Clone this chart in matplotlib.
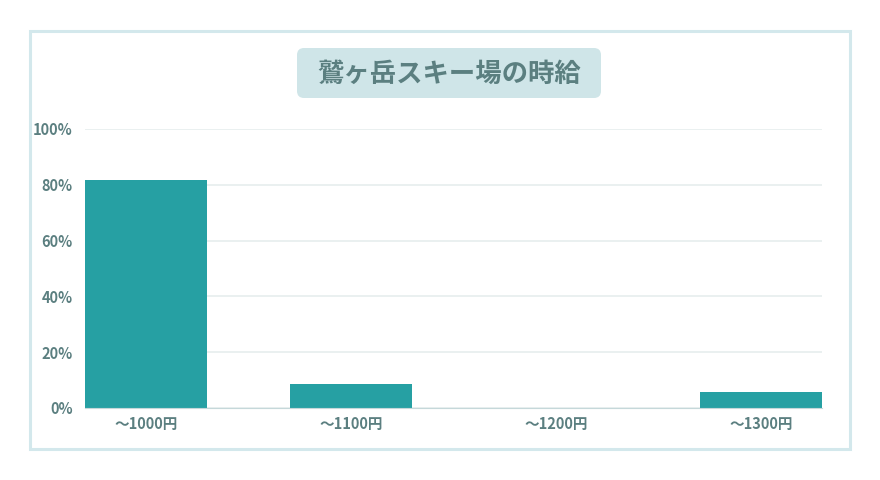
import matplotlib
matplotlib.use("Agg")
import matplotlib.pyplot as plt
from matplotlib.patches import FancyBboxPatch, Rectangle

plt.rcParams['font.family'] = ['Noto Sans CJK JP', 'DejaVu Sans']

# data
categories = ['〜1000円', '〜1100円', '〜1200円', '〜1300円']
shares = [81.8, 8.5, 0.0, 5.6]
yticks = [0, 20, 40, 60, 80, 100]
title = '鷲ヶ岳スキー場の時給'

bar_color = '#26a0a3'
text_color = '#5b7f80'
frame_color = '#d3e8ec'
box_color = '#cfe5e8'

fig = plt.figure(figsize=(8.8, 4.8), dpi=100)

# outer frame
fig.patches.append(Rectangle((30 / 880, 1 - 449 / 480), 820 / 880, 418 / 480,
                             transform=fig.transFigure, fill=False,
                             edgecolor=frame_color, linewidth=2.2))

# title box
fig.patches.append(FancyBboxPatch((297 / 880, 1 - 98 / 480), 304 / 880, 50 / 480,
                                  boxstyle='round,pad=0,rounding_size=0.008',
                                  transform=fig.transFigure, facecolor=box_color,
                                  edgecolor='none', mutation_aspect=880 / 480))
fig.text(449 / 880, 1 - 74 / 480, title, ha='center', va='center',
         fontsize=19, fontweight='bold', color=text_color)

ax = fig.add_axes([85 / 880, 1 - 408 / 480, 737 / 880, 279 / 480])
w = 122 / 205
x = list(range(len(categories)))
ax.bar(x, shares, width=w, color=bar_color, zorder=3)
ax.set_xlim(-w / 2, len(categories) - 1 + w / 2)
ax.set_ylim(0, 100)
ax.set_yticks(yticks)
ax.set_yticklabels([f'{t}%' for t in yticks])
ax.set_xticks(x)
ax.set_xticklabels(categories)
ax.grid(axis='y', color='#e6eeee', linewidth=1.2, zorder=0)
for s in ['top', 'right', 'left']:
    ax.spines[s].set_visible(False)
ax.spines['bottom'].set_color('#c5d8da')
ax.spines['bottom'].set_zorder(4)
ax.tick_params(length=0, colors=text_color, labelsize=10.5)
ax.tick_params(axis='y', pad=9)
ax.tick_params(axis='x', pad=5.5)
for lab in ax.get_xticklabels() + ax.get_yticklabels():
    lab.set_fontweight('bold')

fig.savefig('out.png', dpi=100)
